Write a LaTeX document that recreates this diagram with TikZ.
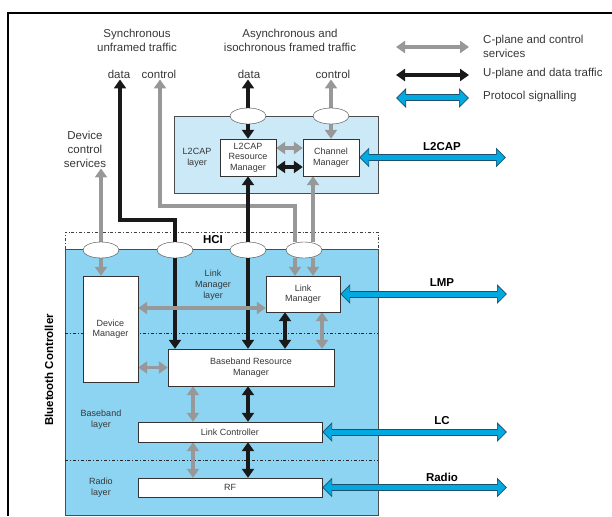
\documentclass[tikz,border=0pt]{standalone}
\usepackage{fontspec}
\setmainfont{Liberation Sans}
\usetikzlibrary{arrows.meta,positioning,calc,shapes.geometric}
\definecolor{l2blue}{RGB}{204,233,247}
\definecolor{ctlblue}{RGB}{141,212,242}
\definecolor{protoblue}{RGB}{0,169,224}
\definecolor{protoline}{RGB}{30,80,110}
\definecolor{arrgray}{RGB}{152,152,152}
\definecolor{txtgray}{RGB}{55,55,55}
\pgfdeclarelayer{bg}
\pgfdeclarelayer{wires}
\pgfsetlayers{bg,wires,main}
\tikzset{
  box/.style={draw=black!80, fill=white, align=center, text=txtgray, font=\fontsize{9}{10.5}\selectfont, inner sep=1pt},
  port/.style={ellipse, draw=black!75, fill=white, minimum width=36pt, minimum height=16pt, inner sep=0pt},
  lbl/.style={align=center, text=txtgray, font=\fontsize{11.5}{14}\selectfont, inner sep=1pt},
  lay/.style={align=center, text=txtgray, font=\fontsize{9}{11}\selectfont, inner sep=1pt},
  pname/.style={font=\bfseries\fontsize{11.5}{14}\selectfont, inner sep=1pt},
  tip/.style={Triangle[length=9pt,width=12pt]},
  garr/.style={-{Triangle[length=9pt,width=12pt]}, line width=3.5pt, draw=arrgray},
  gdarr/.style={garr, {Triangle[length=9pt,width=12pt]}-{Triangle[length=9pt,width=12pt]}},
  barr/.style={garr, draw=black!90},
  bdarr/.style={gdarr, draw=black!90},
  proto/.style={line width=5pt, draw=protoblue,
    {Triangle[length=8pt,width=15pt]}-{Triangle[length=8pt,width=15pt]}, shorten <=1.3pt, shorten >=1.3pt,
    preaction={draw=protoline, line width=7pt, shorten <=0pt, shorten >=0pt,
      {Triangle[length=10pt,width=19pt]}-{Triangle[length=10pt,width=19pt]}}}}
\begin{document}
\begin{tikzpicture}[x=1pt, y=-1pt]
  \useasboundingbox (0,0) rectangle (612,516);
  % texts on top
  \node[lbl] (sync) at (137,40) {Synchronous\\unframed traffic};
  \node[lbl] (async) at (290,40) {Asynchronous and\\isochronous framed traffic};
  \node[lbl] (sdata) at (119,74) {data}; \node[lbl] (sctrl) at (159,74) {control};
  \node[lbl] (adata) at (249,74) {data}; \node[lbl] (actrl) at (333,74) {control};
  \node[lbl] (dcs) at (85,149) {Device\\control\\services};
  % legend
  \node[lbl, anchor=west, align=left] (lgc) at (482,46) {C-plane and control\\services};
  \node[lbl, anchor=west] (lgu) at (482,74) {U-plane and data traffic};
  \node[lbl, anchor=west] (lgp) at (482,97) {Protocol signalling};
  \coordinate (lg1a) at (396,47); \coordinate (lg1b) at (469,47);
  \coordinate (lg2a) at (396,75); \coordinate (lg2b) at (469,75);
  \coordinate (lg3a) at (396,98); \coordinate (lg3b) at (469,98);
  % L2CAP layer
  \node[lay] (l2lay) at (197,158) {L2CAP\\layer};
  \node[box, minimum width=56pt, minimum height=37pt] (rm) at (248,157.5) {L2CAP\\Resource\\Manager};
  \node[box, minimum width=56pt, minimum height=37pt] (cm) at (331,157.5) {Channel\\Manager};
  \node[port] (l2d) at (248,116) {}; \node[port] (l2c) at (331,116) {};
  % controller
  \node[pname] (hci) at (213,240) {HCI};
  \node[pname, rotate=90] (btc) at (49,370) {Bluetooth Controller};
  \node[port] (hci1) at (101,250) {}; \node[port] (hci2) at (175,250) {};
  \node[port] (hci3) at (248,250) {}; \node[port] (hci4) at (304,250) {};
  \node[lay] (lmlay) at (213,285) {Link\\Manager\\layer};
  \node[lay] (bblay) at (101,420) {Baseband\\layer};
  \node[lay] (rdlay) at (101,488) {Radio\\layer};
  \node[box, minimum width=55pt, minimum height=106pt] (dm) at (110.5,329) {Device\\Manager};
  \node[box, minimum width=74pt, minimum height=36pt] (lm) at (303,294) {Link\\Manager};
  \node[box, minimum width=166pt, minimum height=37pt] (brm) at (251,367.5) {Baseband Resource\\Manager};
  \node[box, minimum width=184pt, minimum height=20pt] (lc) at (230,432) {Link Controller};
  \node[box, minimum width=184pt, minimum height=19pt] (rf) at (230,487.5) {RF};
  % protocol labels
  \node[pname] (pl2) at (442,147) {L2CAP};
  \node[pname] (plmp) at (442,283) {LMP};
  \node[pname] (plc) at (442,421) {LC};
  \node[pname] (prad) at (442,477) {Radio};
  \coordinate (l2end) at (506,157.5); \coordinate (lmend) at (507,294);
  \coordinate (lcend) at (507,432); \coordinate (rfend) at (507,487.5);
  \coordinate (sbend) at (120,220); \coordinate (cbend) at (160,206);
  \coordinate (gx) at (193,0); \coordinate (bx) at (248,0);
  \coordinate (dmlm) at ([yshift=-14pt]lm.west);

  \begin{pgfonlayer}{bg}
    \draw[line width=1.8pt] (8,516) -- (8,13) -- (612,13);
    \fill[l2blue, draw=black!70, line width=0.6pt] (174,116) rectangle (378,193);
    \draw[black!75, line width=0.8pt, dash dot] (65,249) -- (65,232) -- (378,232) -- (378,249);
    \fill[ctlblue, draw=black!70, line width=0.6pt] (65,249) rectangle (378,515);
    \draw[black!85, line width=0.8pt, dash dot] (65,333) -- (378,333);
    \draw[black!85, line width=0.8pt, dash dot] (65,460) -- (378,460);
  \end{pgfonlayer}

  \begin{pgfonlayer}{wires}
    \draw[gdarr] (lg1a) -- (lg1b); \draw[bdarr] (lg2a) -- (lg2b); \draw[proto] (lg3a) -- (lg3b);
    % L2CAP
    \draw[barr] (l2d.north) -- (l2d.north |- adata.south);
    \draw[garr] (l2c.north) -- (l2c.north |- actrl.south);
    \draw[barr] (l2d.south) -- (rm.north);
    \draw[garr] (l2c.south) -- (cm.north);
    \draw[gdarr] ([yshift=9.5pt]rm.east) -- ([yshift=9.5pt]cm.west);
    \draw[bdarr] ([yshift=-9.5pt]rm.east) -- ([yshift=-9.5pt]cm.west);
    \draw[proto] (cm.east) -- (l2end);
    % through the HCI
    \draw[barr] (hci2.north) |- (sbend) -- (sbend |- sdata.south);
    \draw[garr] ([xshift=-9pt]hci4.north) |- (cbend) -- (cbend |- sctrl.south);
    \draw[garr] ([xshift=9pt]hci4.north) -- ([xshift=9pt]hci4.north |- cm.south);
    \draw[barr] (hci3.north) -- (rm.south);
    \draw[garr] (hci1.north) -- (hci1.north |- dcs.south);
    \draw[garr] (hci1.south) -- (hci1.south |- dm.north);
    \draw[barr] (hci2.south) -- (hci2.south |- brm.north);
    \draw[barr] (hci3.south) -- (hci3.south |- brm.north);
    \draw[garr] ([xshift=-9pt]hci4.south) -- ([xshift=-9pt]hci4.south |- lm.north);
    \draw[garr] ([xshift=9pt]hci4.south) -- ([xshift=9pt]hci4.south |- lm.north);
    % inside the controller
    \draw[gdarr] (dm.east |- dmlm) -- (dmlm);
    \draw[gdarr] (dm.east |- brm.west) -- (brm.west);
    \draw[bdarr] ([xshift=-18pt]lm.south) -- ([xshift=-18pt]lm.south |- brm.north);
    \draw[gdarr] ([xshift=19pt]lm.south) -- ([xshift=19pt]lm.south |- brm.north);
    \draw[gdarr] (brm.south -| gx) -- (lc.north -| gx);
    \draw[bdarr] (brm.south -| bx) -- (lc.north -| bx);
    \draw[gdarr] (lc.south -| gx) -- (rf.north -| gx);
    \draw[bdarr] (lc.south -| bx) -- (rf.north -| bx);
    \draw[proto] (lm.east) -- (lmend);
    \draw[proto] (lc.east) -- (lcend);
    \draw[proto] (rf.east) -- (rfend);
  \end{pgfonlayer}
\end{tikzpicture}
\end{document}
